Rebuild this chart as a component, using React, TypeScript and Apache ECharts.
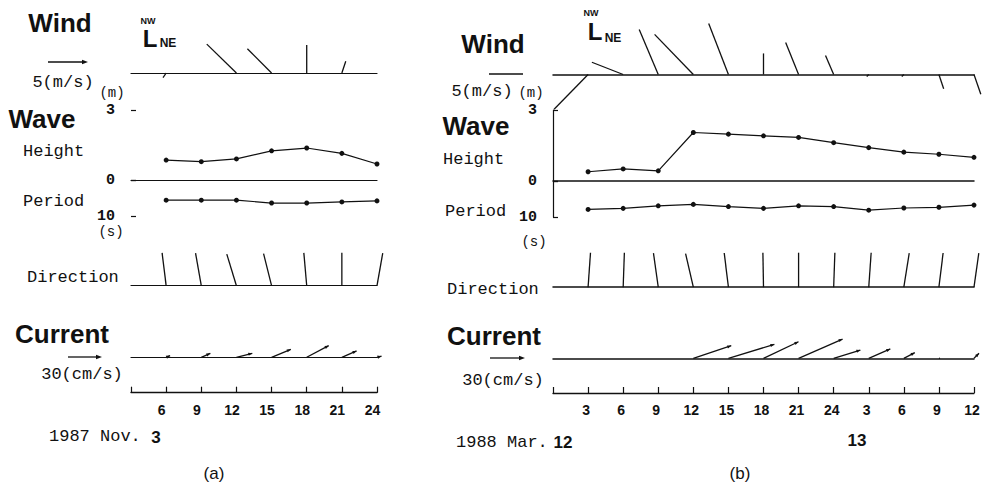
import React, { useEffect, useRef } from "react";
import * as echarts from "echarts";

// ---------------- Panel (a): 1987 Nov. 3 ----------------
const hoursA = [6, 9, 12, 15, 18, 21, 24];
const windNE_A = [-0.4, 0, -3.8, -3.1, 0, 0.5, 0]; // m/s, + toward NE
const windNW_A = [-0.6, 0, 3.7, 3.1, 3.6, 1.5, 0]; // m/s, + toward NW
const waveHeightA = [0.86, 0.79, 0.91, 1.26, 1.38, 1.15, 0.69]; // m
const wavePeriodA = [5.6, 5.6, 5.6, 6.4, 6.4, 6.1, 5.8]; // s
const waveDirA = [308, 305, 298, 301, 310, 315, 325]; // bearing, deg
const curNE_A = [3.5, 8, 14, 17, 19.4, 13, 4]; // cm/s
const curNW_A = [1.5, 3.5, 3.5, 7, 10.3, 5.6, 1]; // cm/s
const tickLabelsA = ["", "6", "9", "12", "15", "18", "21", "24"]; // hours 3..24

// ---------------- Panel (b): 1988 Mar. 12-13 ----------------
const hoursB = [3, 6, 9, 12, 15, 18, 21, 24, 27, 30, 33, 36];
const windNE_B = [-5.0, -4.6, -2.8, -5.7, -2.9, 0, -1.9, -1.2, -0.3, -0.3, 0.7, 1.0];
const windNW_B = [-5.1, 1.8, 6.6, 5.9, 7.5, 3.1, 4.7, 2.8, -0.3, -0.3, -2.1, -2.9];
const waveHeightB = [0.39, 0.51, 0.43, 2.05, 1.98, 1.91, 1.84, 1.62, 1.41, 1.22, 1.13, 1.0];
const wavePeriodB = [7.9, 7.6, 6.9, 6.5, 7.1, 7.6, 6.9, 7.1, 8.1, 7.5, 7.3, 6.7];
const waveDirB = [319, 317, 307, 302, 308, 314, 315, 317, 319, 324, 322, 323];
const curNE_B = [0, 0, 0, 32.5, 39.4, 30, 37.7, 22.9, 18.5, 9.4, 1, 4.3];
const curNW_B = [0, 0, 0, 10.8, 12, 14.2, 16.5, 7.1, 8, 4.8, 0, 4.3];
const tickLabelsB = ["", "3", "6", "9", "12", "15", "18", "21", "24", "3", "6", "9", "12"]; // hours 0..36

const BLACK = "#111";
const MONO = "'Liberation Mono', 'DejaVu Sans Mono', monospace";
const SANS = "'Liberation Sans', Arial, sans-serif";

type Layout = {
  left: number; width: number; xMin: number; xMax: number;
  windBase: number; windPx: number; windMin: number; windMax: number;
  hTop: number; hZero: number; pBottom: number;
  dirBase: number; dirLen: number;
  curBase: number; curPx: number; curMin: number; curMax: number;
  axisY: number; yLine: boolean; labels: string[]; labelPad: number; baseLW: number;
};

const LAYOUT_A: Layout = {
  left: 131, width: 246, xMin: 3, xMax: 24,
  windBase: 73, windPx: 7.8, windMin: -2, windMax: 6,
  hTop: 110.5, hZero: 180, pBottom: 216,
  dirBase: 285.7, dirLen: 33,
  curBase: 357.3, curPx: 34 / 30, curMin: -5, curMax: 25,
  axisY: 392.7, yLine: false, labels: tickLabelsA, labelPad: 9, baseLW: 1.2,
};
const LAYOUT_B: Layout = {
  left: 553, width: 421, xMin: 0, xMax: 36,
  windBase: 74.5, windPx: 6.8, windMin: -6, windMax: 8,
  hTop: 110, hZero: 181, pBottom: 217,
  dirBase: 287.2, dirLen: 34.5,
  curBase: 358.3, curPx: 35 / 30, curMin: -5, curMax: 25,
  axisY: 393, yLine: true, labels: tickLabelsB, labelPad: 4, baseLW: 1.5,
};

function stickRender(withHead: boolean) {
  return (_params: any, api: any) => {
    const t = api.value(0);
    const u = api.value(2);
    const v = api.value(3);
    const base = api.coord([t, 0]);
    const unit = api.size([0, 1])[1];
    const dx = u * unit;
    const dy = -v * unit;
    const x2 = base[0] + dx;
    const y2 = base[1] + dy;
    const children: any[] = [
      { type: "line", shape: { x1: base[0], y1: base[1], x2, y2 }, style: { stroke: BLACK, lineWidth: 1.3 } },
    ];
    const len = Math.hypot(dx, dy);
    if (withHead && len > 3) {
      const ux = dx / len, uy = dy / len;
      const hl = 4, hw = 1.6;
      children.push({
        type: "polygon",
        shape: {
          points: [
            [x2, y2],
            [x2 - ux * hl - uy * hw, y2 - uy * hl + ux * hw],
            [x2 - ux * hl + uy * hw, y2 - uy * hl - ux * hw],
          ],
        },
        style: { fill: BLACK },
      });
    }
    return { type: "group", children };
  };
}

function dirRender(_params: any, api: any) {
  const t = api.value(0);
  const b = api.value(2);
  const base = api.coord([t, 0]);
  const L = api.size([0, 1])[1];
  const a = ((b - 315) * Math.PI) / 180;
  return {
    type: "line",
    shape: { x1: base[0], y1: base[1], x2: base[0] + L * Math.sin(a), y2: base[1] - L * Math.cos(a) },
    style: { stroke: BLACK, lineWidth: 1.3 },
  };
}

function buildPanel(
  L: Layout, g0: number,
  hours: number[], wNE: number[], wNW: number[], hgt: number[], per: number[], dir: number[], cNE: number[], cNW: number[]
) {
  const grids = [
    { left: L.left, width: L.width, top: L.windBase - L.windMax * L.windPx, height: (L.windMax - L.windMin) * L.windPx },
    { left: L.left, width: L.width, top: L.hTop, height: L.hZero - L.hTop },
    { left: L.left, width: L.width, top: L.hZero, height: L.pBottom - L.hZero },
    { left: L.left, width: L.width, top: L.dirBase - L.dirLen, height: L.dirLen },
    { left: L.left, width: L.width, top: L.curBase - L.curMax * L.curPx, height: (L.curMax - L.curMin) * L.curPx },
    { left: L.left, width: L.width, top: L.axisY - 20, height: 20 },
  ];
  const baseX = (i: number, showLine: boolean) => ({
    type: "value", gridIndex: g0 + i, min: L.xMin, max: L.xMax,
    axisLine: { show: showLine, onZero: true, lineStyle: { color: BLACK, width: L.baseLW } },
    axisTick: { show: false }, axisLabel: { show: false }, splitLine: { show: false },
  });
  const xAxes: any[] = [
    baseX(0, true),
    baseX(1, true),
    baseX(2, false),
    baseX(3, true),
    baseX(4, true),
    {
      type: "value", gridIndex: g0 + 5, min: L.xMin, max: L.xMax, interval: 3, position: "bottom",
      axisLine: { show: true, onZero: false, lineStyle: { color: BLACK, width: 1.3 } },
      axisTick: { show: true, inside: true, length: 6, lineStyle: { color: BLACK, width: 1.2 } },
      axisLabel: {
        show: true, margin: 10, color: BLACK, fontFamily: SANS, fontWeight: "bold", fontSize: 14,
        padding: [0, L.labelPad, 0, 0],
        formatter: (v: number) => L.labels[Math.round((v - L.xMin) / 3)] ?? "",
      },
      splitLine: { show: false },
    },
  ];
  const hiddenY = (i: number, min: number, max: number) => ({
    type: "value", gridIndex: g0 + i, min, max, show: false, splitLine: { show: false },
  });
  const yAxes: any[] = [
    hiddenY(0, L.windMin, L.windMax),
    {
      type: "value", gridIndex: g0 + 1, min: 0, max: 3, interval: 3, position: "left",
      axisLine: { show: L.yLine, lineStyle: { color: BLACK, width: 1.2 } },
      axisTick: { show: true, inside: true, length: 5, lineStyle: { color: BLACK, width: 1.2 } },
      axisLabel: { show: true, margin: 16, color: BLACK, fontFamily: MONO, fontSize: 15, fontWeight: "bold" },
      splitLine: { show: false },
    },
    {
      type: "value", gridIndex: g0 + 2, min: 0, max: 10, interval: 10, inverse: true, position: "left",
      axisLine: { show: L.yLine, lineStyle: { color: BLACK, width: 1.2 } },
      axisTick: { show: true, inside: true, length: 5, lineStyle: { color: BLACK, width: 1.2 } },
      axisLabel: {
        show: true, margin: 16, color: BLACK, fontFamily: MONO, fontSize: 15, fontWeight: "bold",
        formatter: (v: number) => (v === 10 ? "10" : ""),
      },
      splitLine: { show: false },
    },
    hiddenY(3, 0, 1),
    hiddenY(4, L.curMin, L.curMax),
    hiddenY(5, 0, 1),
  ];
  const lineStyle = { color: BLACK, width: 1.2 };
  const series: any[] = [
    {
      type: "custom", xAxisIndex: g0, yAxisIndex: g0, renderItem: stickRender(false),
      encode: { x: 0, y: 1 }, data: hours.map((h, i) => [h, 0, wNE[i], wNW[i]]),
    },
    {
      type: "line", xAxisIndex: g0 + 1, yAxisIndex: g0 + 1, data: hours.map((h, i) => [h, hgt[i]]),
      symbol: "circle", symbolSize: 5, itemStyle: { color: BLACK }, lineStyle,
    },
    {
      type: "line", xAxisIndex: g0 + 2, yAxisIndex: g0 + 2, data: hours.map((h, i) => [h, per[i]]),
      symbol: "circle", symbolSize: 5, itemStyle: { color: BLACK }, lineStyle,
    },
    {
      type: "custom", xAxisIndex: g0 + 3, yAxisIndex: g0 + 3, renderItem: dirRender,
      encode: { x: 0, y: 1 }, data: hours.map((h, i) => [h, 0, dir[i]]),
    },
    {
      type: "custom", xAxisIndex: g0 + 4, yAxisIndex: g0 + 4, renderItem: stickRender(true),
      encode: { x: 0, y: 1 }, data: hours.map((h, i) => [h, 0, cNE[i], cNW[i]]),
    },
  ];
  return { grids, xAxes, yAxes, series };
}

function txt(text: string, x: number, y: number, font: string, align = "left") {
  return { type: "text", x, y, silent: true, style: { text, font, fill: BLACK, align, verticalAlign: "middle" } };
}
function hline(x1: number, x2: number, y: number, w = 1.3) {
  return { type: "line", silent: true, shape: { x1, y1: y, x2, y2: y }, style: { stroke: BLACK, lineWidth: w } };
}
function headRight(x: number, y: number) {
  return { type: "polygon", silent: true, shape: { points: [[x, y], [x - 6, y - 2.2], [x - 6, y + 2.2]] }, style: { fill: BLACK } };
}

const BIG = `bold 26px ${SANS}`;
const MTXT = `17px ${MONO}`;
const COMPASS_L = `bold 24px ${SANS}`;

function graphics() {
  return [
    // ---- panel (a)
    txt("Wind", 60, 23, BIG, "center"),
    txt("NW", 148, 20.5, `bold 9px ${SANS}`, "center"),
    txt("L", 150, 38.5, COMPASS_L, "center"),
    txt("NE", 168, 43, `bold 12px ${SANS}`, "center"),
    hline(48, 84, 62),
    headRight(88, 62),
    txt("5(m/s)", 63, 82, MTXT, "center"),
    txt("(m)", 112, 93, `14px ${MONO}`, "center"),
    txt("Wave", 42, 119, BIG, "center"),
    txt("Height", 23, 151, MTXT),
    txt("Period", 23, 201, MTXT),
    txt("(s)", 111, 232, `14px ${MONO}`, "center"),
    txt("Direction", 27, 277, MTXT),
    txt("Current", 62, 334, BIG, "center"),
    hline(68, 98, 357),
    headRight(102, 357),
    txt("30(cm/s)", 82, 374, MTXT, "center"),
    txt("1987 Nov.", 49, 436, MTXT),
    txt("3", 156, 437, `bold 17px ${SANS}`, "center"),
    txt("(a)", 214, 473, `17px ${SANS}`, "center"),
    // ---- panel (b)
    txt("Wind", 493, 44, BIG, "center"),
    txt("NW", 591, 12.5, `bold 9px ${SANS}`, "center"),
    txt("L", 595, 31, COMPASS_L, "center"),
    txt("NE", 613, 38, `bold 12px ${SANS}`, "center"),
    hline(489, 523, 74),
    txt("5(m/s)", 482, 91, MTXT, "center"),
    txt("(m)", 531, 93, `14px ${MONO}`, "center"),
    txt("Wave", 476, 126, BIG, "center"),
    txt("Height", 443, 159, MTXT),
    txt("Period", 445, 211, MTXT),
    txt("(s)", 534, 242, `14px ${MONO}`, "center"),
    txt("Direction", 447, 289, MTXT),
    txt("Current", 494, 336, BIG, "center"),
    hline(490, 521, 358),
    headRight(525, 358),
    txt("30(cm/s)", 503, 380, MTXT, "center"),
    txt("1988 Mar.", 456, 442, MTXT),
    txt("12", 563, 442, `bold 17px ${SANS}`, "center"),
    txt("13", 857, 440, `bold 17px ${SANS}`, "center"),
    txt("(b)", 740, 473, `17px ${SANS}`, "center"),
  ];
}

export default function App() {
  const ref = useRef<HTMLDivElement>(null);
  useEffect(() => {
    document.body.style.margin = "0";
    if (!ref.current) return;
    const chart = echarts.init(ref.current, null, { renderer: "svg" });
    const a = buildPanel(LAYOUT_A, 0, hoursA, windNE_A, windNW_A, waveHeightA, wavePeriodA, waveDirA, curNE_A, curNW_A);
    const b = buildPanel(LAYOUT_B, 6, hoursB, windNE_B, windNW_B, waveHeightB, wavePeriodB, waveDirB, curNE_B, curNW_B);
    chart.setOption({
      animation: false,
      backgroundColor: "#ffffff",
      grid: [...a.grids, ...b.grids],
      xAxis: [...a.xAxes, ...b.xAxes],
      yAxis: [...a.yAxes, ...b.yAxes],
      series: [...a.series, ...b.series],
      graphic: { elements: graphics() },
    });
    return () => chart.dispose();
  }, []);
  return <div ref={ref} style={{ width: 990, height: 487 }} />;
}
